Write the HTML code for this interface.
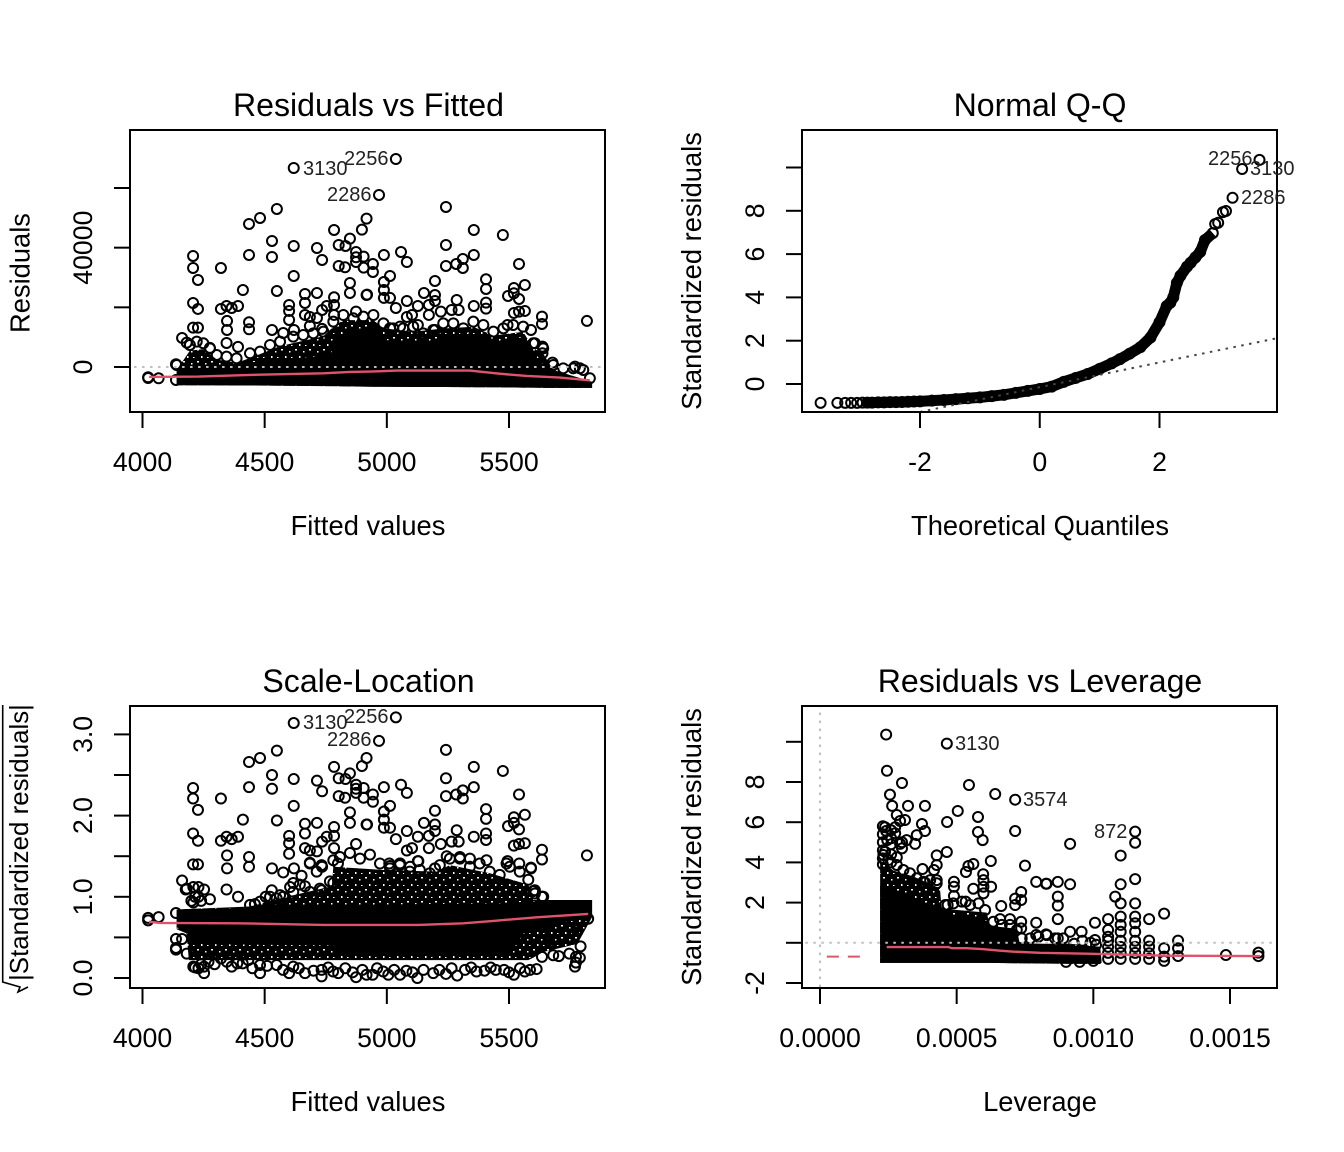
<!DOCTYPE html>
<html>
<head>
<meta charset="utf-8">
<title>lm diagnostic plots</title>
<style>
html,body{margin:0;padding:0;background:#fff;}
svg{display:block;font-family:"Liberation Sans",sans-serif;}
.title{font-size:32.1px;text-anchor:middle;}
.axis-title{font-size:27.3px;text-anchor:middle;}
.tick-label{font-size:26.67px;text-anchor:middle;}
.point-label{font-size:20px;fill:#222;}
</style>
</head>
<body>
<svg id="chart" width="1344" height="1152" viewBox="0 0 1344 1152" xmlns="http://www.w3.org/2000/svg">
<defs>
<pattern id="speckle-heavy" width="14" height="12" patternUnits="userSpaceOnUse">
<rect width="14" height="12" fill="#000"/>
<rect x="1" y="1" width="2" height="1.5" fill="#fff"/>
<rect x="9" y="3" width="1.5" height="1.5" fill="#fff"/>
<rect x="5" y="8" width="1.5" height="2" fill="#fff"/>
<rect x="11" y="9" width="1.5" height="1" fill="#fff"/>
</pattern>
<clipPath id="clip-rf"><rect x="130" y="130" width="475" height="282"/></clipPath>
<clipPath id="clip-qq"><rect x="802" y="130" width="475" height="282"/></clipPath>
<clipPath id="clip-sl"><rect x="130" y="706" width="475" height="282"/></clipPath>
<clipPath id="clip-rl"><rect x="802" y="706" width="475" height="282"/></clipPath>
</defs>
<rect width="1344" height="1152" fill="#fff"/>
<g id="rf"></g>
<g id="qq"></g>
<g id="sl"></g>
<g id="rl"></g>

<text class="title" x="368.5" y="116">Residuals vs Fitted</text>
<text class="title" x="1040" y="116">Normal Q-Q</text>
<text class="title" x="368.5" y="692">Scale-Location</text>
<text class="title" x="1040" y="692">Residuals vs Leverage</text>

<text class="axis-title" x="368" y="535">Fitted values</text>
<text class="axis-title" x="1040" y="535">Theoretical Quantiles</text>
<text class="axis-title" x="368" y="1111">Fitted values</text>
<text class="axis-title" x="1040" y="1111">Leverage</text>

<text class="axis-title" transform="translate(29.5,273) rotate(-90)">Residuals</text>
<text class="axis-title" transform="translate(701,271) rotate(-90)">Standardized residuals</text>
<text class="axis-title" transform="translate(701,847) rotate(-90)">Standardized residuals</text>
<text transform="translate(28,842.5) rotate(-90)" style="font-size:25.9px;text-anchor:middle">|Standardized residuals|</text>
<polyline points="2.7,705 2.7,982 20,987 18,992 28,987" fill="none" stroke="#000" stroke-width="1.6"/>

<text class="point-label" x="303" y="175">3130</text>
<text class="point-label" x="344" y="165">2256</text>
<text class="point-label" x="327" y="201">2286</text>
<text class="point-label" x="1208" y="165">2256</text>
<text class="point-label" x="1250" y="175">3130</text>
<text class="point-label" x="1241" y="204">2286</text>
<text class="point-label" x="303" y="729">3130</text>
<text class="point-label" x="344" y="723">2256</text>
<text class="point-label" x="327" y="746">2286</text>
<text class="point-label" x="955" y="750">3130</text>
<text class="point-label" x="1023" y="806">3574</text>
<text class="point-label" x="1094" y="838">872</text>
</svg>
<script>
// ---- Shared sparse observations (fitted value, residual, sqrt |std. residual|)
const sparseFitted = [4619,4550,4481,4436,4530,4619,4436,4530,4207,4207,4321,4227,4619,4411,4550,4207,4227,4321,4344,4365,4391,4346,4346,4436,4436,4207,4227,4162,4181,4344,4391,4276,4530,4576,4600,4600,4600,4665,4665,4665,4714,4735,4714,4784,4803,4831,4849,4898,4917,4874,4874,4874,4803,4829,4905,4905,4849,4849,4917,4784,4784,4754,4735,4784,4685,4714,4685,4735,4620,4874,5037,4968,5242,5242,5356,5475,5058,5082,4988,4943,4943,5242,5284,5311,5311,5356,5541,5013,4988,4988,4988,5013,5197,5406,5406,5565,5520,5496,5520,5541,4919,5037,5082,5152,5127,5197,5197,5172,5221,5082,5103,5172,5286,5265,5294,5356,5406,5406,5520,5565,5635,5635,5590,5819,5541,5197,5127,5054,5013,5494,5606,5637,5637,5678,5770,5790,4137,4023,4066,4137,4023];
const sparseResidual = [66700,52970,49950,47940,42240,40570,37550,36880,37220,33200,33200,29170,30520,25800,25490,21470,19460,19460,20460,19790,20460,15440,12420,14990,12640,13200,13200,9740,8170,8060,6730,6390,12420,11410,20800,18790,15770,24480,21470,17450,39900,35880,24820,45930,40900,40570,43030,46040,49730,38560,36770,35200,33870,33420,37000,33300,28170,24820,24150,23370,20800,20460,19120,17450,16780,16440,13760,12760,12420,18560,69720,57660,53640,40900,45930,44250,38560,35200,37550,34540,31860,33870,34540,36210,33200,37550,34540,30520,28500,25820,23150,23150,28840,29400,26160,27500,26500,23810,24700,22800,24260,19790,22140,24820,20460,24150,22140,20800,18560,16780,17450,17450,22470,19120,19120,20460,21580,19570,18120,18790,16890,14430,12420,15440,18560,12420,14090,13540,13000,14090,7950,6830,4600,1470,130,-430,910,-3440,-3780,-4340,-3700];
const sparseRoot = [3.14,2.80,2.71,2.66,2.50,2.45,2.35,2.33,2.34,2.21,2.21,2.07,2.12,1.95,1.94,1.78,1.69,1.69,1.74,1.71,1.74,1.51,1.35,1.49,1.37,1.40,1.40,1.20,1.10,1.09,1.00,.97,1.35,1.30,1.75,1.66,1.53,1.90,1.78,1.60,2.43,2.30,1.91,2.60,2.46,2.45,2.52,2.61,2.71,2.38,2.33,2.28,2.24,2.22,2.34,2.22,2.04,1.91,1.89,1.86,1.75,1.74,1.68,1.60,1.57,1.56,1.42,1.37,1.35,1.65,3.21,2.92,2.81,2.46,2.60,2.55,2.38,2.28,2.35,2.26,2.17,2.24,2.26,2.31,2.21,2.35,2.26,2.12,2.05,1.95,1.85,1.85,2.06,2.08,1.96,2.01,1.98,1.87,1.91,1.83,1.89,1.71,1.81,1.91,1.74,1.89,1.81,1.75,1.65,1.57,1.60,1.60,1.82,1.68,1.68,1.74,1.78,1.70,1.63,1.66,1.58,1.46,1.35,1.51,1.65,1.35,1.44,1.41,1.38,1.44,1.08,1.00,.82,.47,.14,.25,.37,.71,.75,.80,.74];

// ---- Residuals vs Fitted
const rfXTicks = [4000,4500,5000,5500];
const rfYTicks = [0,20000,40000,60000];
const rfYLabels = ["0","","40000",""];
const rfEdgeFitted = [4140,4194,4222,4249,4276,4304,4344,4385,4440,4481,4522,4563,4617,4658,4699,4740,4781,4822,4863,4904,4945,4986,5026,5067,5108,5149,5190,5231,5272,5313,5354,5395,5436,5477,5517,5558,5599,5640,5681,5722,5763,5804,5831];
const rfEdgeResidual = [680,7380,8500,7940,6260,4030,3470,2910,4590,5150,7380,8500,10170,10730,11290,11850,15200,17430,16320,16870,17430,14640,12960,12960,13520,11290,12400,14640,14640,12960,15200,14080,11850,12960,14080,13520,7940,6260,680,-440,-440,-1000,-3790];
const rfCloudFitted = [4140,4194,4249,4304,4385,4440,4563,4740,4781,4822,4945,4986,5108,5231,5354,5436,5558,5599,5640,5681,5722,5840];
const rfCloudTop = [-1000,5500,6000,2500,1400,3000,7000,10300,13500,15700,15700,13000,11800,12900,13500,10500,11800,6300,4500,-1000,-2000,-5000];
const rfCloudBottom = [-6100,-6100,-6100,-6100,-6200,-6200,-6300,-6400,-6400,-6500,-6600,-6600,-6700,-6700,-6800,-6800,-6900,-6900,-7000,-7000,-7000,-7000];
const rfCoreFitted = [4140,4500,4770,4790,4950,5000,5150,5250,5400,5440,5560,5600,5680,5840];
const rfCoreTop = [-500,2000,4000,10500,13500,9000,8000,11000,11000,8500,10000,3000,-1000,-5000];
const rfCoreBottom = [-6100,-6200,-6400,-6400,-6600,-6600,-6700,-6700,-6800,-6800,-6900,-6900,-7000,-7000];
const rfSmoothFitted = [4027,4229,4392,4549,4740,4849,4931,5040,5340,5456,5572,5708,5831];
const rfSmoothResidual = [-3330,-3220,-2770,-2440,-2100,-1650,-1540,-1210,-1210,-2210,-3000,-3550,-4450];

// ---- Normal Q-Q
const qqXTicks = [-2,0,2];
const qqYTicks = [0,2,4,6,8,10];
const qqYLabels = ["0","2","4","6","8",""];
const qqTheoretical = [-3.66,-3.38,-3.25,-3.15,-3.05,-2.96,-2.88,-2.8,-2.7,-2.6,-2.5,-2.4,-2.3,-2.2,-2.1,-2,-1.8,-1.6,-1.4,-1.2,-1,-.8,-.6,-.4,-.2,0,.2,.4,.6,.8,1,1.2,1.34,1.5,1.68,1.85,2,2.12,2.18,2.23,2.29,2.35,2.46,2.52,2.6,2.68,2.76,2.89,2.93,2.98,3.06,3.11,3.22,3.38,3.67];
const qqStandardized = [-.87,-.87,-.87,-.87,-.87,-.86,-.86,-.86,-.85,-.85,-.84,-.84,-.83,-.82,-.81,-.80,-.77,-.74,-.70,-.66,-.62,-.56,-.5,-.41,-.32,-.23,-.12,.1,.28,.46,.7,.95,1.15,1.4,1.7,2.15,2.85,3.6,3.75,4.0,4.67,5.0,5.42,5.6,5.85,6.1,6.65,6.97,7.39,7.45,7.94,7.99,8.6,9.93,10.35];
const qqLineTheoretical = [-2,3.97];
const qqLineStandardized = [-1.29,2.12];
const qqBandFrom = -2.96;
const qqBandTo = 2.9;

// ---- Scale-Location
const slXTicks = [4000,4500,5000,5500];
const slYTicks = [0,.5,1,1.5,2,2.5,3];
const slYLabels = ["0.0","","1.0","","2.0","","3.0"];
const slExtraFitted = [4137,4162,4137,4181,4208,4229,4252,4252,4321,4388,4481,4481,4433,4549,4600,4665,4617,4733,4733,4801,4874,4917,4942,5006,5054,5125,5190,5242,5288,5367,5446,5520,5586,5613,5635,5681,5704,5747,5774,5774,5793,5777,5824,4529,4460,4504,4549,4576,4617,4651,4665,4617,4733,4713,4733,4685,4781,4800,4781,4800,4208,4229,4177,4252,4208,4229,5010,5054,5095,5129,5197,5245,5299,5340,5408,5490,5542,5590,5599,5635];
const slExtraRoot = [.48,.48,.35,.30,.14,.12,.14,.06,.24,.18,.06,.16,.22,.16,.06,.06,.14,.02,.10,.06,.01,.04,.04,.04,.04,0,.06,.05,.03,.08,.10,.04,.10,.11,.26,.28,.27,.30,.26,.19,.39,.59,.73,1.08,.91,1,.98,1,1.17,1.26,1.13,1.06,1.08,1.31,1.39,1.41,1.17,1.21,1.45,1.41,1.12,1.12,1.09,1.09,.93,1,1.41,1.41,1.37,1.44,1.35,1.5,1.49,1.47,1.45,1.41,1.41,1.36,1.07,1];
const slEdgeFitted = [4200,4215,4240,4440,4481,4522,4563,4604,4644,4685,4726,4767,4808,4849,4890,4931,4972,5013,5053,5094,5135,5176,5217,5258,5299,5340,5380,5421,5462,5503,5544,5579,5606,5640,4215,4240,4270,4295,4345,4365,4410,4450,4510,4575,4640,4700,4760,4780,4830,4860,4900,4960,4985,5030,5080,5105,5150,5215,5265,5320,5345,5400,5425,5480,5500,5545,5565];
const slEdgeRoot = [.95,1,.95,.9,.94,1,1.02,1.12,1.15,1.06,1.1,1.19,1.49,1.54,1.47,1.52,1.41,1.35,1.39,1.31,1.33,1.29,1.39,1.47,1.47,1.37,1.41,1.31,1.27,1.37,1.31,1.21,1.04,1,.13,.17,.2,.17,.2,.14,.18,.12,.15,.1,.12,.09,.13,.08,.12,.07,.1,.12,.08,.1,.09,.07,.1,.1,.12,.1,.13,.09,.13,.1,.07,.12,.08];
const slCloudFitted = [4140,4180,4190,4440,4590,4775,4781,4986,5204,5258,5422,5579,5599,5640,5780,5840];
const slCloudTop = [.84,.85,.85,.88,1,1.13,1.37,1.33,1.31,1.39,1.29,1.15,.96,.96,.96,.96];
const slCloudBottom = [.6,.55,.22,.22,.22,.22,.22,.22,.22,.22,.22,.22,.25,.32,.42,.75];
const slCoreFitted = [4140,4180,4190,4780,4800,5500,5560,5840];
const slCoreTop = [.84,.85,.85,.88,.9,.92,.94,.96];
const slCoreBottom = [.62,.6,.42,.4,.28,.28,.55,.78];
const slSmoothFitted = [4027,4069,4392,4740,4931,5129,5313,5436,5613,5824];
const slSmoothRoot = [.694,.678,.674,.653,.653,.653,.674,.703,.748,.789];

// ---- Residuals vs Leverage (leverage in units of 1e-4)
const rlXTicks = [0,5,10,15];
const rlXLabels = ["0.0000","0.0005","0.0010","0.0015"];
const rlYTicks = [-2,0,2,4,6,8,10];
const rlYLabels = ["-2","","2","4","6","8",""];
const rlLeverage = [2.42,4.64,2.45,3,5.45,6.41,7.14,2.56,2.64,3.22,3.84,5.04,2.81,5.78,4.65,2.93,3.11,3.73,2.38,2.75,2.42,2.75,3.84,3.54,5.78,7.14,5.95,3.48,3.17,2.93,2.46,4.64,4.27,2.38,2.81,6.25,7.5,5.61,5.43,5.34,4.27,3.75,4.17,5.97,7.91,8.27,4.9,4.9,4.9,5.61,5.98,5.98,6.26,5.98,4.27,3.84,7.36,7.14,7.36,7.14,4.67,5.33,6.63,6.59,6.95,7.36,7.36,7.91,7.91,8.27,5.37,11.53,11.53,9.15,11,11.53,11,10.8,11,11.53,9.15,8.7,8.29,8.7,8.7,8.7,12.59,12.04,10.06,10.54,11,11.53,11.53,11.53,11,11,10.54,10.54,9.57,9.15,8.7,8.29,10.06,12.04,12.04,12.04,12.59,12.59,13.1,13.1,13.1,14.85,16.04,16.04,2.3,2.3,2.3,2.3,2.3,2.3,2.6,2.6,2.6,2.6,2.6,3,3,11,11,11,11,11.53,11.53,11.53,11.53,10.54,10.54,10.54,10.54,12.04,12.59,10,9.5,9,2.32,2.5,2.81,3.05,3.29,3.54,3.78,4.03,4.27,4.58,4.88,5.19,5.49,5.8,6.04,6.34,6.65,6.95,7.2,7.38,7.69,7.99,8.3,8.6,8.9,9.3,9.6,9.9,10.1];
const rlStandardized = [10.36,9.91,8.56,7.95,7.85,7.4,7.12,7.37,6.81,6.81,6.81,6.56,6.36,6.26,6.01,6.06,6.11,5.91,5.75,5.75,5.56,5.45,5.56,5.36,5.51,5.56,5.11,4.92,5.11,4.92,5.11,4.52,4.35,4.53,4.25,4.07,3.84,3.92,3.82,3.52,3.87,3.67,3.62,3.41,3.03,2.94,3.04,2.79,2.33,2.69,3.12,2.79,2.79,2.46,3.12,3,2.53,2.2,2.13,1.88,1.88,2.05,1.83,1.18,1.18,1.05,.72,1,.39,.42,1.3,5.53,4.98,4.92,4.34,3.17,2.91,2.3,1.96,1.96,2.91,3.03,2.94,2.3,1.85,1.18,1.45,1.18,1,1.18,1.3,1.3,.97,.55,.89,.55,.64,.3,.55,.55,.22,.39,.14,.11,-.19,-.52,-.27,-.69,.11,-.27,-.66,-.61,-.49,-.66,5.8,5.4,5,4.6,4.2,3.9,5.6,5.2,4.9,4.4,4,5,4.7,.1,-.2,-.5,-.8,.1,-.2,-.5,-.8,.1,-.2,-.5,-.8,-.8,-.9,-.9,-.95,-.95,4.37,4.12,3.87,3.62,3.46,3.21,3.04,3.12,2.96,1.88,1.96,2.05,1.88,1.96,1.63,1.05,.89,.89,.64,.22,.22,.3,.39,.22,.22,-.05,.1,0,-.1];
const rlCloudLeverage = [2.2,2.68,3.42,4.39,4.45,6.1,6.22,7.2,7.26,9.15,10.25,10.3];
const rlCloudTop = [4.1,3.6,3.3,2.7,1.7,1.5,.8,.6,-.05,-.05,-.2,-.9];
const rlCloudBottom = [-1,-1,-1,-1,-1,-1,-1,-1.02,-1.02,-1.05,-1.05,-1];
const rlCoreLeverage = [2.2,3.1,4.4,4.45,6.1,6.2,7.2,7.3,10.25];
const rlCoreTop = [2.9,2.4,1.7,1.5,1.1,.85,.7,0,-.2];
const rlCoreBottom = [-1,-1,-1,-1,-1,-1,-1.02,-1.02,-1.05];
const rlSmoothLeverage = [2.44,4.7,4.82,5.37,5.98,6.59,7.08,8.05,9.76,12.63,16.1];
const rlSmoothStandardized = [-.21,-.21,-.27,-.27,-.32,-.39,-.44,-.5,-.54,-.64,-.66];
const rlDashLeverage = [.25,1.7];
const rlDashStandardized = [-.69,-.69];

const NS = 'http://www.w3.org/2000/svg';
function linear(d0, d1, r0, r1) {
  return function (v) { return r0 + (v - d0) * (r1 - r0) / (d1 - d0); };
}
function make(tag, parent, attrs) {
  const el = document.createElementNS(NS, tag);
  for (const k in attrs) el.setAttribute(k, attrs[k]);
  parent.appendChild(el);
  return el;
}
function drawPoints(parent, xs, ys, sx, sy) {
  for (let i = 0; i < xs.length; i++) {
    const c = make('circle', parent, {cx: sx(xs[i]), cy: sy(ys[i]), r: 5, fill: 'none', stroke: '#000', 'stroke-width': 2});
    
    
  }
}
function drawCloud(parent, xs, top, bottom, sx, sy, fill) {
  const pts = [];
  for (let i = 0; i < xs.length; i++) pts.push(sx(xs[i]) + ',' + sy(top[i]));
  for (let i = xs.length - 1; i >= 0; i--) pts.push(sx(xs[i]) + ',' + sy(bottom[i]));
  const p = make('polygon', parent, {points: pts.join(' '), fill: fill});
  
  
}
function drawLine(parent, xs, ys, sx, sy, stroke, width, dash, clip) {
  const pts = xs.map(function (x, i) { return sx(x) + ',' + sy(ys[i]); }).join(' ');
  const l = make('polyline', parent, {points: pts, fill: 'none', stroke: stroke, 'stroke-width': width});
  if (dash) l.setAttribute('stroke-dasharray', dash);
  if (clip) l.setAttribute('clip-path', 'url(#' + clip + ')');
  
  
}
function drawAxes(parent, box, xTicks, xLabels, yTicks, yLabels, sx, sy) {
  const frame = make('rect', parent, {x: box.x, y: box.y, width: box.w, height: box.h, fill: 'none', stroke: '#000', 'stroke-width': 2});
  
  
  const bottom = box.y + box.h;
  xTicks.forEach(function (t, i) {
    const m = make('line', parent, {x1: sx(t), x2: sx(t), y1: bottom, y2: bottom + 16, stroke: '#000', 'stroke-width': 2});
    
    
    if (xLabels[i] !== '') {
      const lab = make('text', parent, {x: sx(t), y: bottom + 59, 'class': 'tick-label'});
      lab.textContent = xLabels[i];
      
      
    }
  });
  yTicks.forEach(function (t, i) {
    const m = make('line', parent, {x1: box.x - 16, x2: box.x, y1: sy(t), y2: sy(t), stroke: '#000', 'stroke-width': 2});
    
    
    if (yLabels[i] !== '') {
      const lab = make('text', parent, {transform: 'translate(' + (box.x - 38) + ',' + sy(t) + ') rotate(-90)', 'class': 'tick-label'});
      lab.textContent = yLabels[i];
      
      
    }
  });
}

const RED = '#DF536B';
const GREY = '#BEBEBE';
const DOTS = '2.5 5.5';

// Panel 1
(function () {
  const g = document.getElementById('rf');
  const sx = linear(4000, 5500, 142.5, 509);
  const sy = linear(0, 60000, 367, 188);
  drawCloud(g, rfCloudFitted, rfCloudTop, rfCloudBottom, sx, sy, 'url(#speckle-heavy)');
  drawCloud(g, rfCoreFitted, rfCoreTop, rfCoreBottom, sx, sy, '#000');
  drawPoints(g, rfEdgeFitted, rfEdgeResidual, sx, sy);
  drawPoints(g, sparseFitted, sparseResidual, sx, sy);
  drawLine(g, [3900, 5950], [0, 0], sx, sy, GREY, 2, DOTS, 'clip-rf');
  drawLine(g, rfSmoothFitted, rfSmoothResidual, sx, sy, RED, 2.4, null, null);
  drawAxes(g, {x: 130, y: 130, w: 475, h: 282}, rfXTicks, rfXTicks.map(String), rfYTicks, rfYLabels, sx, sy);
})();

// Panel 2
(function () {
  const g = document.getElementById('qq');
  const sx = linear(-2, 2, 920, 1159.5);
  const sy = linear(0, 10, 384, 167.5);
  const bandX = qqTheoretical.filter(function (q) { return q >= qqBandFrom && q <= qqBandTo; });
  const bandY = qqStandardized.filter(function (r, i) { return qqTheoretical[i] >= qqBandFrom && qqTheoretical[i] <= qqBandTo; });
  drawLine(g, bandX, bandY, sx, sy, '#000', 11, null, null);
  drawPoints(g, qqTheoretical, qqStandardized, sx, sy);
  drawLine(g, qqLineTheoretical, qqLineStandardized, sx, sy, '#444', 2, DOTS, 'clip-qq');
  drawAxes(g, {x: 802, y: 130, w: 475, h: 282}, qqXTicks, qqXTicks.map(String), qqYTicks, qqYLabels, sx, sy);
})();

// Panel 3
(function () {
  const g = document.getElementById('sl');
  const sx = linear(4000, 5500, 142.5, 509);
  const sy = linear(0, 3, 978, 734.4);
  drawCloud(g, slCloudFitted, slCloudTop, slCloudBottom, sx, sy, 'url(#speckle-heavy)');
  drawCloud(g, slCoreFitted, slCoreTop, slCoreBottom, sx, sy, '#000');
  drawPoints(g, slEdgeFitted, slEdgeRoot, sx, sy);
  drawPoints(g, sparseFitted, sparseRoot, sx, sy);
  drawPoints(g, slExtraFitted, slExtraRoot, sx, sy);
  drawLine(g, slSmoothFitted, slSmoothRoot, sx, sy, RED, 2.4, null, null);
  drawAxes(g, {x: 130, y: 706, w: 475, h: 282}, slXTicks, slXTicks.map(String), slYTicks, slYLabels, sx, sy);
})();

// Panel 4
(function () {
  const g = document.getElementById('rl');
  const sx = linear(0, 15, 820, 1230);
  const sy = linear(0, 10, 942.8, 741.8);
  drawCloud(g, rlCloudLeverage, rlCloudTop, rlCloudBottom, sx, sy, 'url(#speckle-heavy)');
  drawCloud(g, rlCoreLeverage, rlCoreTop, rlCoreBottom, sx, sy, '#000');
  drawPoints(g, rlLeverage, rlStandardized, sx, sy);
  drawLine(g, [-2, 18], [0, 0], sx, sy, GREY, 2, DOTS, 'clip-rl');
  drawLine(g, [0, 0], [-3, 12], sx, sy, GREY, 2, DOTS, 'clip-rl');
  drawLine(g, rlSmoothLeverage, rlSmoothStandardized, sx, sy, RED, 2.4, null, null);
  drawLine(g, rlDashLeverage, rlDashStandardized, sx, sy, RED, 2, '12 9', null);
  drawAxes(g, {x: 802, y: 706, w: 475, h: 282}, rlXTicks, rlXLabels, rlYTicks, rlYLabels, sx, sy);
})();
</script>
</body>
</html>
